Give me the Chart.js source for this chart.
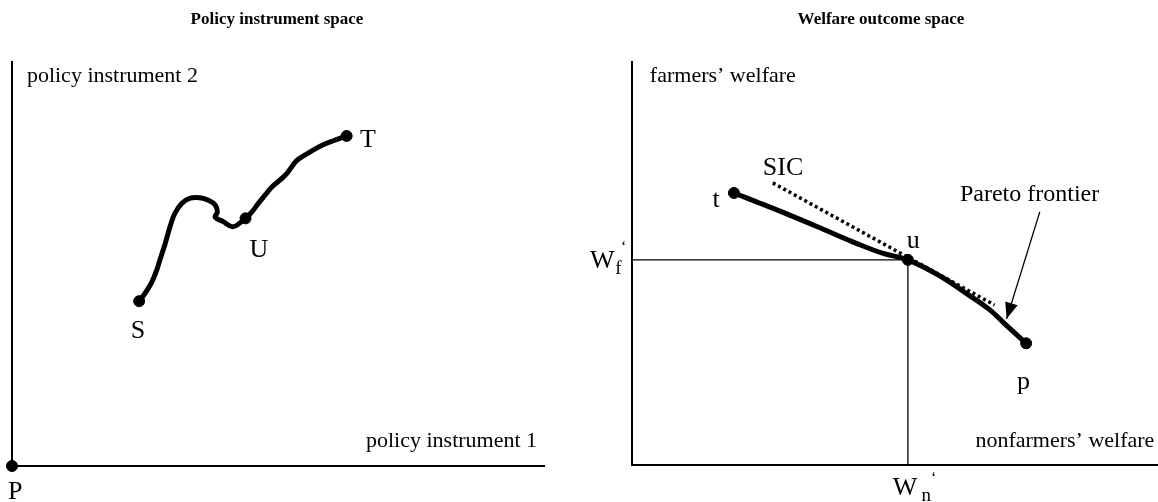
<!DOCTYPE html>
<html>
<head>
<meta charset="utf-8">
<script src="https://cdn.jsdelivr.net/npm/chart.js@4.4.1/dist/chart.umd.min.js"></script>
<style>
  html, body { margin: 0; padding: 0; background: #fff; overflow: hidden; }
  #wrap { position: relative; width: 1158px; height: 502px; overflow: hidden; }
  canvas { position: absolute; left: 0; top: 0; }
</style>
</head>
<body>
<div id="wrap">
  <canvas id="left" width="1158" height="502"></canvas>
  <canvas id="right" width="1164" height="502"></canvas>
</div>
<script>
// ---------- Data (abstract units, axes run 0..100) ----------
// Left panel: path in policy-instrument space from S through U to T
const pathX = [23.9, 25.0, 26.3, 27.2, 27.8, 28.8, 29.7, 30.6, 31.9, 33.5, 35.3, 36.9, 38.2, 38.6, 38.2, 39.7, 41.5, 42.9, 43.9, 45.1, 46.3, 47.6, 48.8, 50.4, 51.6, 52.6, 53.5, 55.1, 56.6, 58.5, 60.4, 62.9];
const pathY = [40.8, 42.7, 45.6, 48.5, 51.0, 55.1, 59.2, 62.5, 65.0, 66.3, 66.4, 65.8, 64.6, 62.9, 61.6, 60.5, 59.2, 60.2, 61.3, 62.9, 65.0, 67.1, 69.0, 70.8, 72.3, 74.1, 75.6, 77.0, 78.2, 79.5, 80.5, 81.7];
const policyPointNames = ['P', 'S', 'U', 'T'];
const policyPointX = [0, 23.9, 43.9, 62.9];
const policyPointY = [0, 40.8, 61.3, 81.7];

// Right panel: Pareto frontier from t through u to p
const frontierX = [19.4, 23.7, 30.0, 36.4, 42.7, 47.8, 52.5, 58.6, 63.6, 68.1, 71.2, 75.0];
const frontierY = [67.5, 65.3, 62.0, 58.5, 55.0, 52.5, 50.9, 46.9, 42.6, 38.5, 34.7, 30.2];
const welfarePointNames = ['t', 'u', 'p'];
const welfarePointX = [19.4, 52.5, 75.0];
const welfarePointY = [67.5, 50.9, 30.2];
// Social indifference curve (tangent at u)
const sicX = [26.8, 69.0];
const sicY = [70.0, 39.7];
// Reference levels W_n' and W_f' at u
const wnLevel = 52.5;
const wfLevel = 50.9;
// Arrow pointing to the frontier
const arrowX = [77.6, 71.3];
const arrowY = [62.8, 36.3];

const titles = ['Policy instrument space', 'Welfare outcome space'];

// ---------- helpers ----------
const SERIF = '"Liberation Serif", "Times New Roman", Times, serif';
const pts = (xs, ys) => xs.map((x, i) => ({ x: x, y: ys[i] }));

const textPlugin = {
  id: 'textLabels',
  afterDraw(chart, args, opts) {
    const ctx = chart.ctx;
    const xs = chart.scales.x, ys = chart.scales.y;
    ctx.save();
    ctx.fillStyle = '#000';
    ctx.textBaseline = 'alphabetic';
    (opts.items || []).forEach(it => {
      ctx.font = (it.weight || 'normal') + ' ' + it.size + 'px ' + SERIF;
      ctx.textAlign = it.align || 'left';
      const px = it.abs ? it.x : xs.getPixelForValue(it.x);
      const py = it.abs ? it.y : ys.getPixelForValue(it.y);
      ctx.fillText(it.text, px, py);
    });
    (opts.arrows || []).forEach(a => {
      const x1 = xs.getPixelForValue(a.x[0]), y1 = ys.getPixelForValue(a.y[0]);
      const x2 = xs.getPixelForValue(a.x[1]), y2 = ys.getPixelForValue(a.y[1]);
      const ang = Math.atan2(y2 - y1, x2 - x1);
      const len = 16, half = 6.5;
      const bx = x2 - len * Math.cos(ang), by = y2 - len * Math.sin(ang);
      ctx.beginPath();
      ctx.moveTo(x2, y2);
      ctx.lineTo(bx + half * Math.sin(ang), by - half * Math.cos(ang));
      ctx.lineTo(bx - half * Math.sin(ang), by + half * Math.cos(ang));
      ctx.closePath();
      ctx.fill();
    });
    ctx.restore();
  }
};

const hiddenScale = (min, max) => ({
  type: 'linear', min: min, max: max,
  grid: { display: false, drawTicks: false },
  ticks: { display: false },
  border: { display: true, color: '#000', width: 2 }
});

const baseOptions = (padding, items, arrows) => ({
  responsive: false,
  animation: false,
  devicePixelRatio: 1,
  layout: { padding: padding },
  plugins: {
    legend: { display: false },
    tooltip: { enabled: false },
    textLabels: { items: items, arrows: arrows || [] }
  },
  scales: { x: hiddenScale(0, 100), y: hiddenScale(0, 100) }
});

// ---------- Left chart ----------
new Chart(document.getElementById('left'), {
  type: 'scatter',
  data: {
    datasets: [
      {
        data: pts(pathX, pathY), showLine: true, borderColor: '#000', borderWidth: 5,
        pointRadius: 0, tension: 0.4, clip: false, borderCapStyle: 'round', borderJoinStyle: 'round'
      },
      {
        data: pts(policyPointX, policyPointY), showLine: false, pointRadius: 5.5,
        pointBackgroundColor: '#000', pointBorderColor: '#000', clip: false
      }
    ]
  },
  options: baseOptions({ left: 12, top: 62, right: 614, bottom: 36 }, [
    { text: titles[0], x: 277, y: 24, abs: true, size: 17, weight: 'bold', align: 'center' },
    { text: 'policy instrument 2', x: 2.8, y: 95.0, size: 22, align: 'left' },
    { text: 'policy instrument 1', x: 98.7, y: 4.7, size: 22, align: 'right' },
    { text: policyPointNames[0], x: 0.6, y: -8.2, size: 26, align: 'center' },
    { text: policyPointNames[1], x: 23.7, y: 31.7, size: 26, align: 'center' },
    { text: policyPointNames[2], x: 46.4, y: 51.7, size: 26, align: 'center' },
    { text: policyPointNames[3], x: 65.4, y: 79.0, size: 26, align: 'left' }
  ]),
  plugins: [textPlugin]
});

// ---------- Right chart ----------
new Chart(document.getElementById('right'), {
  type: 'scatter',
  data: {
    datasets: [
      {
        data: [{ x: 0, y: wfLevel }, { x: wnLevel, y: wfLevel }, { x: wnLevel, y: 0 }],
        showLine: true, borderColor: '#000', borderWidth: 1.3, pointRadius: 0, tension: 0, clip: false
      },
      {
        data: pts(sicX, sicY), showLine: true, borderColor: '#000', borderWidth: 3.5,
        borderDash: [3, 3], pointRadius: 0, tension: 0, clip: false
      },
      {
        data: pts(frontierX, frontierY), showLine: true, borderColor: '#000', borderWidth: 5,
        pointRadius: 0, tension: 0.4, clip: false, borderCapStyle: 'round'
      },
      {
        data: pts(welfarePointX, welfarePointY), showLine: false, pointRadius: 5.5,
        pointBackgroundColor: '#000', pointBorderColor: '#000', clip: false
      },
      {
        data: pts(arrowX, arrowY), showLine: true, borderColor: '#000', borderWidth: 1.3,
        pointRadius: 0, tension: 0, clip: false
      }
    ]
  },
  options: baseOptions({ left: 632, top: 62, right: 0, bottom: 37 }, [
    { text: titles[1], x: 881, y: 24, abs: true, size: 17, weight: 'bold', align: 'center' },
    { text: 'farmers\u2019 welfare', x: 3.4, y: 95.0, size: 22, align: 'left' },
    { text: 'nonfarmers\u2019 welfare', x: 99.4, y: 4.5, size: 22, align: 'right' },
    { text: welfarePointNames[0], x: 16.7, y: 64.0, size: 26, align: 'right' },
    { text: welfarePointNames[1], x: 52.3, y: 53.8, size: 26, align: 'left' },
    { text: welfarePointNames[2], x: 74.5, y: 18.8, size: 26, align: 'center' },
    { text: 'SIC', x: 24.9, y: 72.0, size: 26, align: 'left' },
    { text: 'Pareto frontier', x: 62.4, y: 65.5, size: 24, align: 'left' },
    { text: 'W', x: -8.0, y: 48.9, size: 26, align: 'left' },
    { text: 'f', x: -3.2, y: 47.4, size: 19, align: 'left' },
    { text: '\u2018', x: -2.1, y: 52.9, size: 16, align: 'left' },
    { text: 'W', x: 49.6, y: -7.4, size: 26, align: 'left' },
    { text: 'n', x: 55.1, y: -8.9, size: 19, align: 'left' },
    { text: '\u2018', x: 56.9, y: -4.5, size: 16, align: 'left' }
  ], [{ x: arrowX, y: arrowY }]),
  plugins: [textPlugin]
});
</script>
</body>
</html>
